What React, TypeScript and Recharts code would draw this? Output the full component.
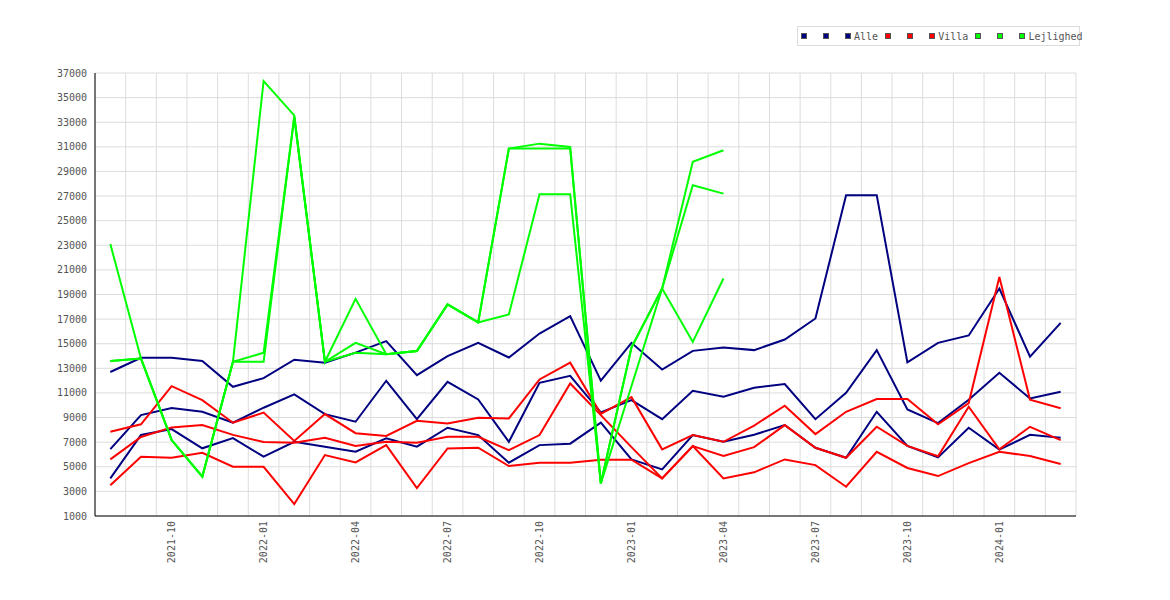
import React from 'react';
import { LineChart, Line, XAxis, YAxis, CartesianGrid } from 'recharts';

// months on the x axis (2021-08 .. 2024-03)
const months = [
  '2021-08', '2021-09', '2021-10', '2021-11', '2021-12',
  '2022-01', '2022-02', '2022-03', '2022-04', '2022-05', '2022-06',
  '2022-07', '2022-08', '2022-09', '2022-10', '2022-11', '2022-12',
  '2023-01', '2023-02', '2023-03', '2023-04', '2023-05', '2023-06',
  '2023-07', '2023-08', '2023-09', '2023-10', '2023-11', '2023-12',
  '2024-01', '2024-02', '2024-03',
];

const yTicks = [1000, 3000, 5000, 7000, 9000, 11000, 13000, 15000, 17000, 19000,
  21000, 23000, 25000, 27000, 29000, 31000, 33000, 35000, 37000];

// Alle
const alle1 = [12700, 13850, 13850, 13600, 11500, 12200, 13700, 13450, 14280, 15210, 12450, 13990, 15070, 13880, 15830, 17250,
  12000, 15070, 12900, 14420, 14690, 14480, 15340, 17050, 27070, 27070, 13480, 15070, 15670, 19490, 13940, 16700];
const alle2 = [6440, 9200, 9770, 9470, 8580, 9800, 10880, 9280, 8660, 11990, 8870, 11900, 10470, 7030, 11820, 12390,
  9420, 10420, 8870, 11170, 10690, 11420, 11720, 8870, 11010, 14480, 9660, 8550, 10440, 12640, 10550, 11100];
const alle3 = [4060, 7580, 8060, 6500, 7330, 5820, 7030, 6630, 6220, 7310, 6630, 8170, 7575, 5330, 6760, 6880,
  8590, 5600, 4790, 7575, 7030, 7600, 8390, 6546, 5734, 9470, 6690, 5766, 8170, 6400, 7600, 7360];

// Villa
const villa1 = [7850, 8450, 11550, 10420, 8580, 9400, 7100, 9280, 7730, 7500, 8740, 8520, 8980, 8930, 12100, 13460,
  9300, 10660, 6415, 7578, 7030, 8350, 9960, 7656, 9470, 10500, 10500, 8460, 10180, 20430, 10450, 9760];
const villa2 = [5600, 7420, 8200, 8400, 7590, 7020, 6950, 7360, 6684, 7040, 6950, 7440, 7440, 6357, 7575, 11770,
  9200, 6600, 4060, 6684, 5880, 6600, 8387, 6546, 5734, 8251, 6700, 5850, 9880, 6415, 8251, 7170];
const villa3 = [3500, 5820, 5740, 6140, 5003, 5003, 1970, 5950, 5350, 6765, 3270, 6492, 6546, 5057, 5328, 5328,
  5570, 5570, 4058, 6684, 4058, 4550, 5598, 5138, 3378, 6221, 4900, 4245, 5300, 6220, 5870, 5220];

// Lejlighed (no data after 2023-04)
const lejl1 = [23100, 13800, 7170, 4190, 13530, 36350, 33560, 13530, 18650, 14150, 14400, 18190, 16730, 30860, 31260, 30990,
  3650, 14700, 19490, 29790, 30720, null, null, null, null, null, null, null, null, null, null, null];
const lejl2 = [13600, 13800, 7170, 4190, 13530, 14260, 33430, 13530, 15070, 14150, 14400, 18190, 16730, 30860, 30860, 30860,
  3650, 11570, 19490, 27880, 27200, null, null, null, null, null, null, null, null, null, null, null];
const lejl3 = [13600, 13800, 7170, 4190, 13530, 13530, 33430, 13530, 14260, 14150, 14400, 18190, 16730, 17380, 27150, 27150,
  3650, 14700, 19490, 15150, 20300, null, null, null, null, null, null, null, null, null, null, null];

const series = [
  { key: 'a1', name: '', color: '#000080', values: alle1 },
  { key: 'a2', name: '', color: '#000080', values: alle2 },
  { key: 'a3', name: 'Alle', color: '#000080', values: alle3 },
  { key: 'v1', name: '', color: '#ff0000', values: villa1 },
  { key: 'v2', name: '', color: '#ff0000', values: villa2 },
  { key: 'v3', name: 'Villa', color: '#ff0000', values: villa3 },
  { key: 'l1', name: '', color: '#00ff00', values: lejl1 },
  { key: 'l2', name: '', color: '#00ff00', values: lejl2 },
  { key: 'l3', name: 'Lejlighed', color: '#00ff00', values: lejl3 },
];

const data = months.map((m, i) => {
  const row: any = { i, month: m };
  series.forEach(s => { row[s.key] = s.values[i]; });
  return row;
});

// labelled months (quarters) and band edges for the vertical grid
const labelTicks = months.map((m, i) => (/-(01|04|07|10)$/.test(m) ? i : -1)).filter(i => i >= 0);
const gridTicks = [-0.5].concat(months.map((_, i) => i + 0.5));

const FONT = '"DejaVu Sans Mono", monospace';

const XTick = (props: any) => {
  const { x, y, payload } = props;
  return (
    <text x={x} y={y} transform={`rotate(-90 ${x} ${y})`} textAnchor="end" dy="0.35em"
      fontSize={10} fontFamily={FONT} fill="#555">
      {months[payload.value]}
    </text>
  );
};

// vertical grid lines sit on the month band edges, not on the labels
const gridX = (props: any) => {
  const { xAxis, offset } = props;
  if (xAxis && typeof xAxis.scale === 'function') return gridTicks.map(t => xAxis.scale(t));
  return gridTicks.map(t => offset.left + ((t + 0.5) / months.length) * offset.width);
};

const LegendBox = () => (
  <div style={{
    position: 'absolute', left: 789, top: 18, width: 278, height: 18,
    border: '1px solid #dcdcdc', background: '#fff', display: 'flex', alignItems: 'center',
    paddingLeft: 3, fontFamily: FONT, fontSize: 10, color: '#555', whiteSpace: 'nowrap',
  }}>
    {series.map(s => (
      <div key={s.key} style={{ display: 'flex', alignItems: 'center', marginRight: 7 }}>
        <span style={{
          display: 'inline-block', width: 4, height: 4, background: s.color,
          border: '1px solid #555', marginRight: 3,
        }} />
        <span>{s.name || '\u00a0'}</span>
      </div>
    ))}
  </div>
);

export default function App() {
  return (
    <div style={{ position: 'relative', width: 1154, height: 584 }}>
      <LineChart width={1154} height={584} data={data}
        margin={{ top: 65, right: 86, left: 27, bottom: 36 }}>
        <CartesianGrid stroke="#dcdcdc" strokeWidth={1} verticalCoordinatesGenerator={gridX} />
        <XAxis dataKey="i" type="number" domain={[-0.5, 31.5]} ticks={labelTicks} interval={0}
          tick={<XTick />} tickLine={false} tickSize={0} tickMargin={5} height={40}
          axisLine={{ stroke: '#000' }} />
        <YAxis type="number" domain={[1000, 37000]} ticks={yTicks} interval={0} width={60}
          tickLine={false} axisLine={{ stroke: '#000' }}
          tick={{ fontSize: 10, fontFamily: FONT, fill: '#555' }} />
        {series.map(s => (
          <Line key={s.key} dataKey={s.key} stroke={s.color} strokeWidth={2} dot={false}
            activeDot={false} isAnimationActive={false} type="linear" />
        ))}
      </LineChart>
      <LegendBox />
    </div>
  );
}
